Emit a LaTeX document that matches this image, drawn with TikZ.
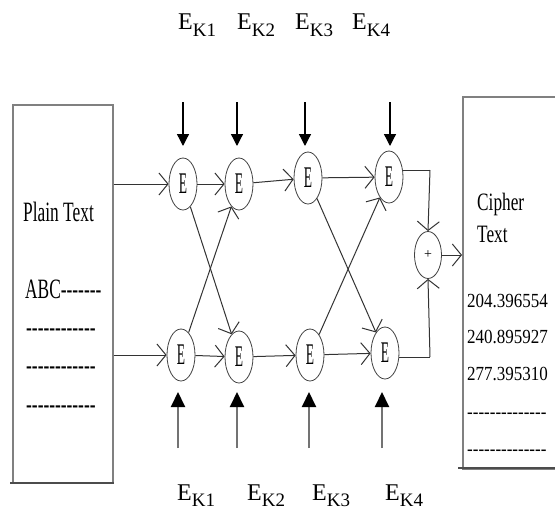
\documentclass[tikz,border=0pt]{standalone}
\usepackage{fontspec}
\setmainfont{Liberation Serif}
\usetikzlibrary{arrows.meta,shapes.geometric}
\newcommand\Etxt{\scalebox{0.45}[1]{E}}
\newcommand\EK[1]{\fontsize{24}{24}\selectfont E\raisebox{-6pt}{\fontsize{19}{19}\selectfont K#1}}
\newcommand\boxfont[1]{\scalebox{0.62}[1]{\fontsize{28}{28}\selectfont #1}}
\newcommand\cfont[1]{\scalebox{0.69}[1]{\fontsize{25}{25}\selectfont #1}}
\newcommand\nfont[1]{\scalebox{0.85}[1]{\fontsize{20}{20}\selectfont #1}}
\begin{document}
\begin{tikzpicture}[x=1pt,y=-1pt,
  enode/.style={draw=black!75, line width=0.8pt, ellipse, minimum width=28pt, minimum height=52pt, inner sep=0pt, font=\fontsize{30}{30}\selectfont},
  pnode/.style={draw=black!75, line width=0.8pt, ellipse, minimum width=27pt, minimum height=47pt, inner sep=0pt, font=\fontsize{14}{14}\selectfont},
  conn/.style={draw=black!80, line width=1pt, -{Straight Barb[length=9pt,width=22pt]}},
  plainline/.style={draw=black!80, line width=1pt},
  keytop/.style={draw=black, line width=1.3pt, -{Triangle[length=12pt,width=12pt]}},
  keybot/.style={draw=black!55, line width=2pt, -{Triangle[length=15pt,width=14pt,color=black]}},
  boxline/.style={draw=black!50, line width=1.6pt},
  shadowline/.style={draw=black!70, line width=2.2pt},
  lbl/.style={anchor=base west, inner sep=0pt}
]
\path[use as bounding box] (0,0) rectangle (555,514);
\clip (0,0) rectangle (555,514);
\fill[white] (0,0) rectangle (555,514);

% boxes
\node[boxline, draw, rectangle, minimum width=100pt, minimum height=378pt, anchor=north west, inner sep=0pt] (lbox) at (12,104) {};
\draw[shadowline] (10,483) -- (114,483);
\node[boxline, draw, rectangle, minimum width=110pt, minimum height=372pt, anchor=north west, inner sep=0pt] (rbox) at (462,96) {};
\draw[shadowline] (458,468) -- (560,468);

% box texts
\node[lbl] (pt) at (23,221) {\boxfont{Plain Text}};
\node[lbl] (abc) at (25,298) {\boxfont{ABC-{}-{}-{}-{}-{}-{}-}};
\node[lbl] (d1) at (26,336) {\boxfont{-{}-{}-{}-{}-{}-{}-{}-{}-{}-{}-{}-}};
\node[lbl] (d2) at (26,374) {\boxfont{-{}-{}-{}-{}-{}-{}-{}-{}-{}-{}-{}-}};
\node[lbl] (d3) at (26,413) {\boxfont{-{}-{}-{}-{}-{}-{}-{}-{}-{}-{}-{}-}};

\node[lbl] (ci) at (477,210) {\cfont{Cipher}};
\node[lbl] (tx) at (477,242) {\cfont{Text}};
\node[lbl] (n1) at (467,307) {\nfont{204.396554}};
\node[lbl] (n2) at (467,343) {\nfont{240.895927}};
\node[lbl] (n3) at (467,380) {\nfont{277.395310}};
\node[lbl] (c1) at (467,418) {\nfont{-{}-{}-{}-{}-{}-{}-{}-{}-{}-{}-{}-{}-{}-}};
\node[lbl] (c2) at (467,455) {\nfont{-{}-{}-{}-{}-{}-{}-{}-{}-{}-{}-{}-{}-{}-}};

% E nodes
\node[enode] (A1) at (183,184) {\Etxt};
\node[enode] (A2) at (239,184) {\Etxt};
\node[enode] (A3) at (308,178) {\Etxt};
\node[enode] (A4) at (389,177) {\Etxt};
\node[enode] (B1) at (181,355) {\Etxt};
\node[enode] (B2) at (239,357) {\Etxt};
\node[enode] (B3) at (310,355) {\Etxt};
\node[enode] (B4) at (385,353) {\Etxt};
\node[pnode] (P) at (428,255) {+};

% inputs
\draw[conn] (lbox.east |- A1) -- (A1);
\draw[conn] (lbox.east |- B1) -- (B1);
% rows
\draw[conn] (A1) -- (A2);
\draw[conn] (A2) -- (A3);
\draw[conn] (A3) -- (A4);
\draw[conn] (B1) -- (B2);
\draw[conn] (B2) -- (B3);
\draw[conn] (B3) -- (B4);
% crossings
\draw[conn] (A1) -- (B2);
\draw[conn] (B1) -- (A2);
\draw[conn] (A3) -- (B4);
\draw[conn] (B3) -- (A4);
% to xor
\coordinate (ct) at (430,170);
\coordinate (cb) at (430,357);
\draw[plainline] (A4.east |- ct) -- (ct);
\draw[conn] (ct) -- (P.north);
\draw[plainline] (B4.east |- cb) -- (cb);
\draw[conn] (cb) -- (P.south);
\draw[conn] (P) -- (rbox.west |- P);

% key arrows top
\foreach \i/\x in {1/183,2/237,3/305,4/390}{
  \coordinate (kt\i s) at (\x,102);
  \coordinate (kt\i e) at (\x,146);
  \draw[keytop] (kt\i s) -- (kt\i e);
}
% key arrows bottom
\foreach \i/\x in {1/178,2/237,3/309,4/382}{
  \coordinate (kb\i s) at (\x,448);
  \coordinate (kb\i e) at (\x,392);
  \draw[keybot] (kb\i s) -- (kb\i e);
}

% labels
\node[lbl] (t1) at (178,30) {\EK{1}};
\node[lbl] (t2) at (237,30) {\EK{2}};
\node[lbl] (t3) at (295,30) {\EK{3}};
\node[lbl] (t4) at (352,30) {\EK{4}};
\node[lbl] (b1) at (177,500) {\EK{1}};
\node[lbl] (b2) at (247,500) {\EK{2}};
\node[lbl] (b3) at (312,500) {\EK{3}};
\node[lbl] (b4) at (385,500) {\EK{4}};
\end{tikzpicture}
\end{document}
